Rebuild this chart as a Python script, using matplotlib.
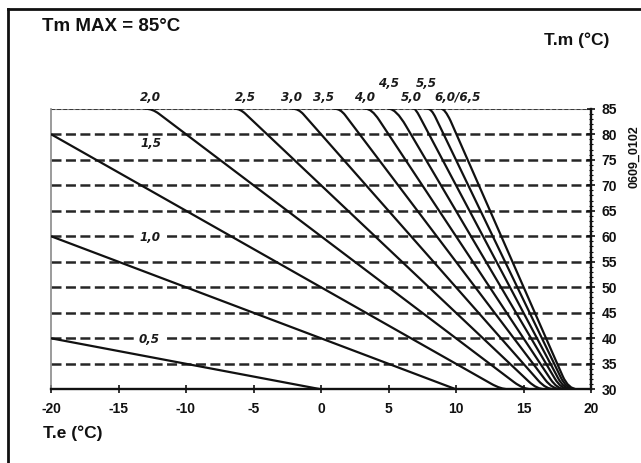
import matplotlib
matplotlib.use('Agg')
import matplotlib.pyplot as plt
from matplotlib.path import Path
from matplotlib.patches import PathPatch
from matplotlib.lines import Line2D
from matplotlib.ticker import MultipleLocator

plt.rcParams['font.family'] = ['Liberation Sans', 'DejaVu Sans']
plt.rcParams['axes.unicode_minus'] = False
plt.rcParams['lines.scale_dashes'] = False

# climatic curves: T.e (outside) -> T.m (flow)
# 2 pts = straight, 4 pts = straight + rounded foot, 6 pts = rounded top and foot
curve_labels = ['0,5', '1,0', '1,5', '2,0', '2,5', '3,0', '3,5', '4,0', '4,5', '5,0', '5,5', '6,0/6,5']
curve_x = [
    [-20, 0],
    [-20, 10],
    [-20, 12.6, 13.33, 13.9],
    [-13.0, -12.5, -12.0, 14.3, 15.0, 15.6],
    [-6.4, -6.0, -5.6, 15.4, 16.0, 16.6],
    [-2.1, -1.67, -1.3, 16.1, 16.67, 17.3],
    [1.0, 1.43, 1.8, 16.6, 17.14, 17.8],
    [3.3, 3.75, 4.3, 17.0, 17.5, 18.1],
    [5.0, 5.56, 6.3, 17.3, 17.78, 18.4],
    [6.9, 7.0, 7.3, 17.55, 18.0, 18.6],
    [7.9, 8.18, 8.5, 17.75, 18.18, 18.8],
    [8.9, 9.17, 9.6, 17.9, 18.33, 19.0],
]
curve_y = [
    [40, 30],
    [60, 30],
    [80, 31.1, 30, 30],
    [85, 85, 84.0, 31.4, 30, 30],
    [85, 85, 84.0, 31.5, 30, 30],
    [85, 85, 83.9, 31.7, 30, 30],
    [85, 85, 83.7, 31.9, 30, 30],
    [85, 85, 82.8, 32.0, 30, 30],
    [85, 85, 81.6, 32.2, 30, 30],
    [85, 85, 83.5, 32.25, 30, 30],
    [85, 85, 83.2, 32.4, 30, 30],
    [85, 85, 82.6, 32.6, 30, 30],
]
# where the curve names sit
label_x = [-12.7, -12.7, -12.6, -12.6, -5.6, -2.2, 0.15, 3.2, 5.0, 6.7, 7.8, 10.1]
label_y = [39.7, 59.8, 78.1, 87.1, 87.1, 87.1, 87.1, 87.2, 90.0, 87.2, 90.0, 87.2]

grid_levels = [35, 40, 45, 50, 55, 60, 65, 70, 75, 80]
x_ticks = [-20, -15, -10, -5, 0, 5, 10, 15, 20]
y_ticks = [30, 35, 40, 45, 50, 55, 60, 65, 70, 75, 80, 85]

W, H = 641, 463
fig = plt.figure(figsize=(W / 100, H / 100), dpi=100)
fig.patch.set_facecolor('white')
ax = fig.add_axes([51 / W, (H - 389.3) / H, 540 / W, 280.6 / H])
ax.set_xlim(-20, 20)
ax.set_ylim(30, 85)

for lv in grid_levels:
    ln = ax.axhline(lv, color='#262626', lw=1.8, zorder=1)
    ln.set_dashes((7.2, 3.2))
ax.axhline(85, color='#888888', lw=0.8, zorder=1)
top = ax.axhline(85, color='#333333', lw=1.3, zorder=1)
top.set_dashes((2.8, 1.6))

code_sets = {
    2: [Path.MOVETO, Path.LINETO],
    4: [Path.MOVETO, Path.LINETO, Path.CURVE3, Path.CURVE3],
    6: [Path.MOVETO, Path.CURVE3, Path.CURVE3, Path.LINETO, Path.CURVE3, Path.CURVE3],
}
for xs, ys in zip(curve_x, curve_y):
    p = Path(list(zip(xs, ys)), code_sets[len(xs)])
    ax.add_patch(PathPatch(p, fill=False, edgecolor='#111111', lw=1.6, zorder=3,
                           capstyle='round', joinstyle='round'))

for name, lx, ly in zip(curve_labels, label_x, label_y):
    box = None
    if name in ('0,5', '1,0'):
        box = dict(facecolor='white', edgecolor='none', pad=3.5)
    ax.text(lx, ly, name, ha='center', va='center', fontsize=8.6,
            family='DejaVu Sans', fontweight='bold', fontstyle='oblique',
            color='#1a1a1a', bbox=box, zorder=4)

ax.spines['top'].set_visible(False)
ax.spines['left'].set_color('#8a8a8a')
ax.spines['left'].set_linewidth(1.2)
ax.spines['bottom'].set_linewidth(1.7)
ax.spines['right'].set_linewidth(1.7)
ax.spines['bottom'].set_color('#111111')
ax.spines['right'].set_color('#111111')

ax.yaxis.tick_right()
ax.set_xticks(x_ticks)
ax.set_xticklabels([str(v) for v in x_ticks])
ax.set_yticks(y_ticks)
ax.yaxis.set_minor_locator(MultipleLocator(1))
ax.tick_params(axis='x', direction='inout', length=6, width=1.2, pad=6,
               labelsize=10, colors='#111111')
ax.tick_params(axis='y', which='major', direction='inout', length=6, width=1.2,
               pad=4.5, labelsize=10, colors='#111111')
ax.tick_params(axis='y', which='minor', direction='inout', length=3.2, width=0.8,
               colors='#111111')
for lab in ax.get_xticklabels() + ax.get_yticklabels():
    lab.set_fontweight('bold')

fig.text(42 / W, 1 - 30.7 / H, 'Tm MAX = 85°C', fontsize=13.5, fontweight='bold',
         va='baseline', ha='left', color='#111111')
fig.text(577 / W, 1 - 45 / H, 'T.m (°C)', fontsize=12.5, fontweight='bold',
         va='baseline', ha='center', color='#111111')
fig.text(43 / W, 1 - 438.3 / H, 'T.e (°C)', fontsize=12.5, fontweight='bold',
         va='baseline', ha='left', color='#111111')
fig.text(634 / W, 1 - 157 / H, '0609_0102', fontsize=9, fontweight='bold',
         rotation=90, va='center', ha='center', color='#111111')

# frame round the picture (right and bottom edges fall outside the image)
fig.add_artist(Line2D([8 / W, 8 / W], [0, 1 - 8.7 / H], transform=fig.transFigure,
                      color='#111111', lw=2))
fig.add_artist(Line2D([8 / W, 1], [1 - 8.7 / H, 1 - 8.7 / H], transform=fig.transFigure,
                      color='#111111', lw=2))

fig.savefig('out.png', dpi=100)
